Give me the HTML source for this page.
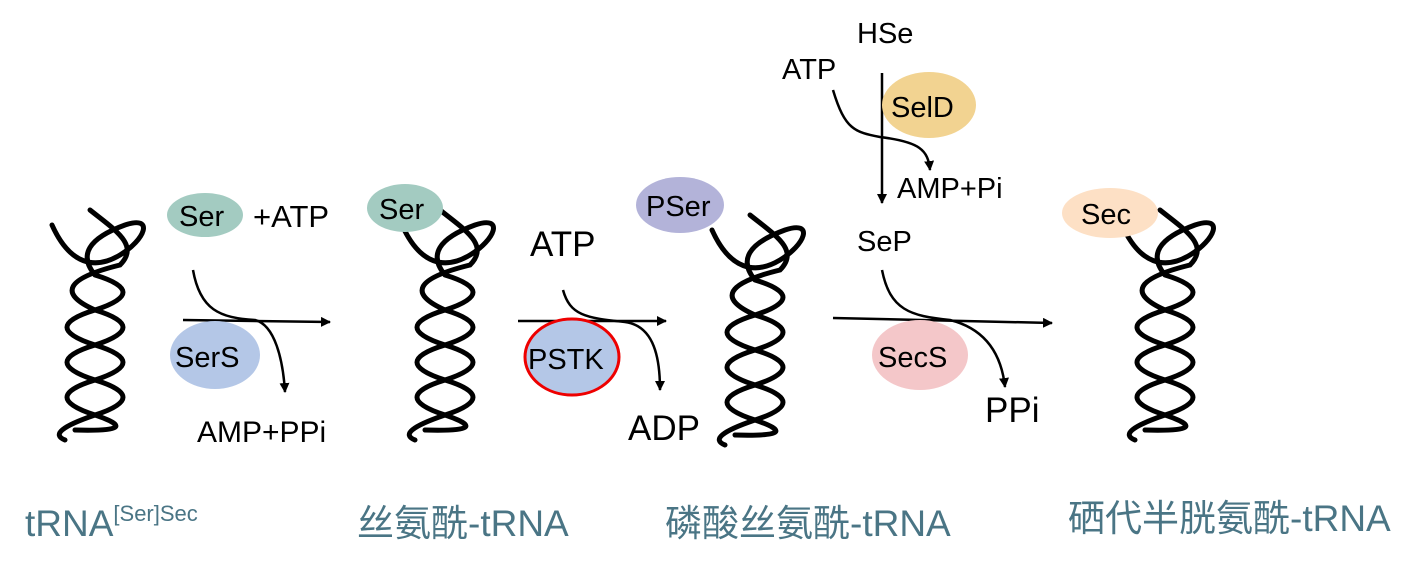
<!DOCTYPE html>
<html><head><meta charset="utf-8"><style>
html,body{margin:0;padding:0;background:#fff;}
svg{display:block;}
text{font-family:"Liberation Sans","Noto Sans CJK SC",sans-serif;fill:#000;}
.lab{fill:#4a7585;font-size:37px;}
</style></head><body>
<svg width="1426" height="570" viewBox="0 0 1426 570" xmlns="http://www.w3.org/2000/svg">
<defs>
<marker id="ah" markerWidth="10" markerHeight="10" refX="9" refY="5" orient="auto" markerUnits="userSpaceOnUse">
<path d="M0,0 L10,5 L0,10 Z" fill="#000"/></marker>
<g id="hx" fill="none" stroke="#000" stroke-width="5" stroke-linecap="round">
<path d="M-43,-15 C-25,25 0,30 25,15 C50,0 60,-25 30,-15 Q-25,5 0,35 Q56,52 0,70 Q-56,87 0,105 Q56,122 0,140 Q-56,157 0,175 Q50,192 -20,190"/>
<path d="M-5,-30 C20,-10 45,5 25,25 Q-56,45 0,70 Q56,87 0,105 Q-56,122 0,140 Q56,157 0,175 Q-50,192 -30,200"/>
</g>
</defs>
<use href="#hx" x="95" y="240"/>
<use href="#hx" x="445" y="240"/>
<use href="#hx" x="755" y="245"/>
<use href="#hx" x="1165" y="240"/>

<g fill="none" stroke="#000" stroke-width="2.5">
<path d="M183,320 L330,322" marker-end="url(#ah)"/>
<path d="M193,270 C200,310 220,318 255,320 C275,325 283,360 285,392" marker-end="url(#ah)"/>
<path d="M518,321 L666,321" marker-end="url(#ah)"/>
<path d="M563,290 C570,315 585,318 625,322 C655,326 660,360 660,390" marker-end="url(#ah)"/>
<path d="M833,318 L1052,323" marker-end="url(#ah)"/>
<path d="M882,270 C890,310 910,316 950,320 C990,330 1002,360 1005,387" marker-end="url(#ah)"/>
<path d="M882,73 L882,203" marker-end="url(#ah)"/>
<path d="M833,90 C845,130 855,132 880,137 C920,142 928,150 930,170" marker-end="url(#ah)"/>
</g>

<ellipse cx="205" cy="215" rx="38" ry="22" fill="#a3cbc1"/>
<text x="179" y="226" font-size="29">Ser</text>
<text x="253" y="227" font-size="31">+ATP</text>
<ellipse cx="215" cy="355" rx="45" ry="34" fill="#b4c7e7"/>
<text x="175" y="367" font-size="29">SerS</text>
<text x="197" y="442" font-size="30">AMP+PPi</text>

<ellipse cx="405" cy="208" rx="38" ry="24" fill="#a3cbc1"/>
<text x="379" y="219" font-size="29">Ser</text>
<text x="530" y="256" font-size="35">ATP</text>
<ellipse cx="572" cy="357" rx="47" ry="38" fill="#b4c7e7" stroke="#e00" stroke-width="3"/>
<text x="528" y="369" font-size="29">PSTK</text>
<text x="628" y="440" font-size="35">ADP</text>

<ellipse cx="680" cy="205" rx="44" ry="28" fill="#b3b3d9"/>
<text x="646" y="216" font-size="29">PSer</text>
<text x="857" y="43" font-size="29">HSe</text>
<text x="782" y="79" font-size="29">ATP</text>
<ellipse cx="929" cy="105" rx="47" ry="33" fill="#f2d391"/>
<text x="891" y="117" font-size="29">SelD</text>
<text x="897" y="198" font-size="29">AMP+Pi</text>
<text x="857" y="251" font-size="29">SeP</text>
<ellipse cx="920" cy="355" rx="48" ry="35" fill="#f4c7c9"/>
<text x="878" y="367" font-size="29">SecS</text>
<text x="985" y="422" font-size="35">PPi</text>

<ellipse cx="1110" cy="213" rx="48" ry="25" fill="#fde0c5"/>
<text x="1081" y="224" font-size="29">Sec</text>

<text class="lab" x="25" y="536">tRNA<tspan font-size="22" dy="-15">[Ser]Sec</tspan></text>
<text class="lab" x="357" y="536">丝氨酰-tRNA</text>
<text class="lab" x="665" y="536">磷酸丝氨酰-tRNA</text>
<text class="lab" x="1068" y="531">硒代半胱氨酰-tRNA</text>
</svg>
</body></html>
